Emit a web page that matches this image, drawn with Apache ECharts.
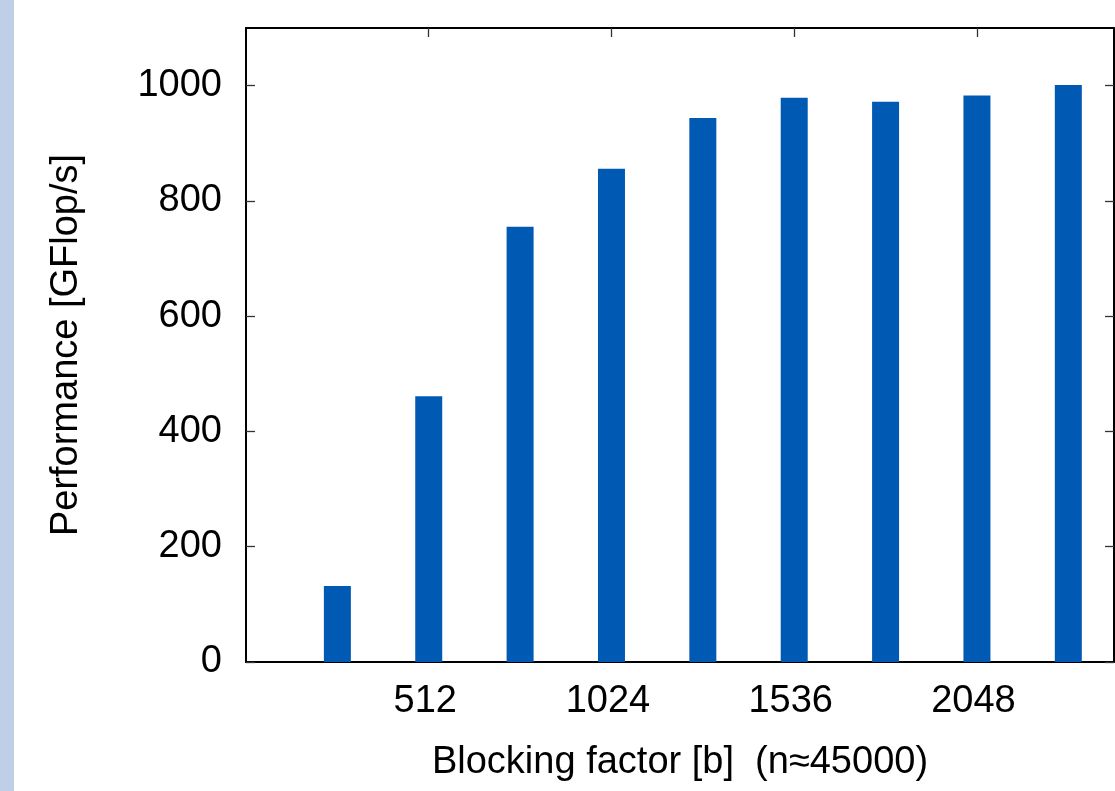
<!DOCTYPE html>
<html><head><meta charset="utf-8">
<script src="https://cdn.jsdelivr.net/npm/echarts@6/dist/echarts.min.js"></script>
<style>html,body{margin:0;padding:0;background:#fff}#c{width:1115px;height:791px}</style>
</head><body><div id="c"></div>
<script>
const blockingFactors = [256, 512, 768, 1024, 1280, 1536, 1792, 2048, 2304];
const performance = [132, 461, 755, 856, 944, 979, 972, 983, 1001];
const xTickLabels = [512, 1024, 1536, 2048];
const yTickLabels = [0, 200, 400, 600, 800, 1000];
const xName = 'Blocking factor [b]  (n\u224845000)';
const yName = 'Performance [GFlop/s]';

const FONT = 'Liberation Sans';
const FS = 38;
const line = { show: true, onZero: false, lineStyle: { color: '#000', width: 2 } };
const tick = { show: true, inside: true, length: 9, lineStyle: { color: '#333', width: 1.3 } };
const plain = v => String(v);

const chart = echarts.init(document.getElementById('c'), null, { renderer: 'canvas' });
chart.setOption({
  backgroundColor: '#fff',
  animation: false,
  graphic: [{ type: 'rect', left: 0, top: 0, shape: { width: 14, height: 791 }, style: { fill: '#BFCFE8' }, z: 10 }],
  grid: { left: 246, top: 28, right: 1, bottom: 129, containLabel: false },
  xAxis: [
    {
      type: 'value', position: 'bottom', min: 0, max: 2432,
      axisLine: line,
      axisTick: Object.assign({}, tick, { customValues: xTickLabels }),
      axisLabel: { customValues: xTickLabels, formatter: plain, margin: 21, padding: [0, 7, 0, 0],
                   fontFamily: FONT, fontSize: FS, color: '#000' },
      splitLine: { show: false },
      name: xName, nameLocation: 'middle', nameGap: 82,
      nameTextStyle: { fontFamily: FONT, fontSize: FS, color: '#000' }
    },
    {
      type: 'value', position: 'top', min: 0, max: 2432,
      axisLine: line,
      axisTick: Object.assign({}, tick, { customValues: xTickLabels }),
      axisLabel: { show: false },
      splitLine: { show: false }
    }
  ],
  yAxis: [
    {
      type: 'value', position: 'left', min: 0, max: 1100,
      axisLine: line,
      axisTick: Object.assign({}, tick, { customValues: yTickLabels }),
      axisLabel: { customValues: yTickLabels, formatter: plain, margin: 24, fontFamily: FONT, fontSize: FS, color: '#000' },
      splitLine: { show: false },
      name: yName, nameLocation: 'middle', nameGap: 160,
      nameTextStyle: { fontFamily: FONT, fontSize: FS, color: '#000' }
    },
    {
      type: 'value', position: 'right', min: 0, max: 1100,
      axisLine: line,
      axisTick: Object.assign({}, tick, { customValues: yTickLabels }),
      axisLabel: { show: false },
      splitLine: { show: false }
    }
  ],
  series: [{
    type: 'bar',
    xAxisIndex: 0, yAxisIndex: 0,
    data: blockingFactors.map((b, i) => [b, performance[i]]),
    barWidth: 27,
    itemStyle: { color: '#005AB4' }
  }]
});
</script></body></html>
